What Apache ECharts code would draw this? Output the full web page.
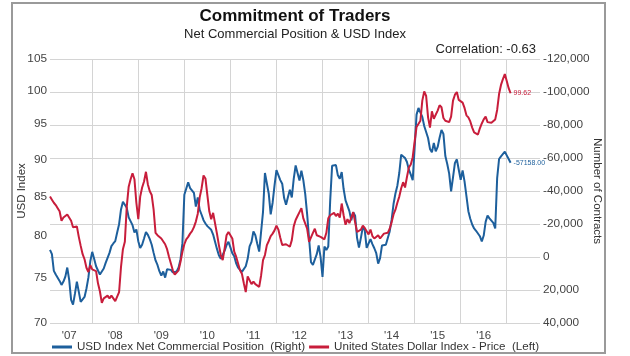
<!DOCTYPE html>
<html><head><meta charset="utf-8">
<script src="https://cdn.jsdelivr.net/npm/echarts@6/dist/echarts.min.js"></script>
<style>html,body{margin:0;padding:0;background:#fff}#c{width:630px;height:356px}</style>
</head><body><div id="c"></div>
<script>
// Semi-monthly samples, first one at start of Feb 2007
const START_YEAR = 2007 + 1 / 12;
const STEP = 1 / 24;
const X_MAX = 2017.722;

const yearTicks = [2008, 2009, 2010, 2011, 2012, 2013, 2014, 2015, 2016, 2017];
const yearLabelPos = [2007.5, 2008.5, 2009.5, 2010.5, 2011.5, 2012.5, 2013.5, 2014.5, 2015.5, 2016.5];
const yearLabels = ["'07", "'08", "'09", "'10", "'11", "'12", "'13", "'14", "'15", "'16"];
const leftTicks = [70, 75, 80, 85, 90, 95, 100, 105];

const seriesNames = ['USD Index Net Commercial Position  (Right)', 'United States Dollar Index - Price  (Left)'];

// USD Index Net Commercial Position (contracts), right axis
const netPosition = [
  -4300, -1700, 8400, 10600, 10000, 14500, 16900, 14900, 11900, 6400, 13900, 26000, 28900, 22200, 14900, 15900, 27200, 27400, 24200, 19100, 12500, 2600,
  -3100, 1100, 5600, 8200, 10600, 9400, 7000, 3600, 500, -2500, -6600, -8200, -9600, -14900, -19900, -28800, -33500, -34500, -29800, -24000, -25000, -19300, -14900, -16700,
  -9600, -5500, -7400, -11200, -15100, -13400, -10800, -7400, -2500, 2100, 4800, 8600, 11300, 8800, 12500, 7400, 8200, 7800, 9400, 10600, 8800, 6400, 1500, -8400,
  -37700, -38300, -45200, -41800, -42200, -38900, -30600, -36100, -28600, -25600, -22300, -20300, -18700, -18700, -16500, -13600, -9200, -4900, -1100, 1100, 2000, -3900, -7200, -9200,
  -5800, -2300, -500, 3800, 6400, 6200, 9000, 9600, 5600, 1100, -6400, -9200, -15500, -13200, -8000, -3300, -4300, -27400, -50900, -51700, -38300, -25800, -32900, -43400,
  -52700, -52100, -46600, -44400, -35700, -31700, -36300, -40800, -36100, -47400, -55500, -55700, -46400, -52300, -46600, -38100, -25800, -11200, 3200, 4800, 4800, -1700, -7000, 100,
  12100, -6400, -4300, -6400, -34100, -55300, -56100, -55700, -49500, -47400, -51500, -41200, -34300, -34000, -27800, -22300, -27200, -25000, -11600, -5700, -11600, -18100, -16300, -5500,
  -4700, -10800, -7800, -5300, -2300, 4000, 700, -7000, -6000, -7400, -8200, -15500, -22500, -32100, -38500, -43200, -50900, -62000, -62400, -60000, -57600, -52900, -49900, -46600,
  -66100, -86300, -90300, -89700, -84900, -79400, -79600, -72100, -65500, -63400, -69100, -64000, -66700, -72300, -77000, -74600, -61200, -56400, -50500, -39800, -48300, -57000, -59200, -52900,
  -46800, -52500, -45800, -36900, -27800, -23200, -19700, -17300, -15900, -14700, -12600, -9400, -13000, -21300, -25200, -23400, -22800, -20700, -17300, -47800, -59400, -61000, -62000, -63800,
  -61600, -59400, -57158
];

// United States Dollar Index - Price, left axis
const usdIndex = [
  85.0, 84.6, 84.2, 83.9, 83.5, 83.1, 81.9, 82.3, 82.5, 82.7, 82.5, 81.9, 81.1, 81.2, 81.2, 79.9, 78.8, 77.8, 77.2, 76.2, 75.7, 76.5,
  76.0, 75.8, 75.8, 74.4, 73.5, 72.2, 72.7, 72.7, 73.0, 72.7, 73.0, 72.7, 72.4, 72.5, 73.4, 76.3, 78.4, 79.3, 83.7, 86.3, 87.3, 88.1, 87.3, 84.2,
  82.1, 85.0, 86.2, 87.0, 88.3, 86.6, 85.7, 85.2, 83.3, 80.4, 80.1, 80.0, 79.7, 79.5, 79.0, 78.4, 77.5, 76.7, 75.9, 75.4, 75.2, 75.9, 76.9, 78.1,
  79.0, 79.6, 79.9, 80.3, 80.6, 81.1, 81.8, 82.8, 84.9, 86.1, 87.8, 87.4, 85.2, 83.1, 82.1, 82.9, 82.9, 80.3, 78.9, 77.7, 77.1, 78.5, 80.1, 80.5,
  80.3, 79.7, 78.1, 77.5, 76.7, 75.9, 75.5, 74.4, 73.4, 75.2, 75.2, 74.3, 74.6, 74.3, 74.4, 74.0, 75.3, 77.1, 77.7, 78.9, 79.4, 80.0, 80.3, 80.7,
  81.3, 80.8, 79.8, 78.9, 79.0, 79.0, 79.1, 78.7, 79.5, 81.2, 82.0, 82.5, 83.0, 83.5, 82.2, 82.2, 80.9, 79.3, 79.5, 80.4, 80.9, 80.1, 79.9, 79.9,
  79.9, 79.6, 80.4, 82.2, 82.6, 82.7, 82.9, 82.5, 82.8, 82.3, 84.1, 82.6, 81.4, 82.1, 81.6, 81.7, 83.0, 81.7, 80.5, 80.3, 80.8, 81.3, 81.0, 80.6,
  80.2, 80.8, 80.0, 79.7, 79.9, 80.1, 79.7, 79.9, 80.3, 80.3, 80.4, 80.9, 81.7, 82.7, 83.3, 84.2, 85.0, 86.1, 86.9, 86.2, 87.6, 88.9, 89.3, 90.3,
  92.5, 94.6, 94.5, 95.5, 98.5, 99.9, 99.2, 96.0, 94.5, 96.9, 95.8, 96.0, 97.0, 97.8, 97.5, 95.9, 95.5, 95.6, 95.3, 96.1, 98.5, 99.4, 99.8, 98.6,
  98.6, 98.2, 97.4, 96.3, 96.0, 95.4, 94.5, 93.8, 93.9, 93.5, 94.4, 95.1, 95.7, 96.1, 95.3, 95.2, 95.2, 95.4, 95.7, 97.1, 99.5, 100.9, 101.8, 102.6,
  101.5, 100.4, 99.62
];

const BLUE = '#1d5f9c';
const RED = '#c81d3b';
const FONT = '"Liberation Sans", Arial, sans-serif';

const chart = echarts.init(document.getElementById('c'), null, { renderer: 'canvas' });
chart.setOption({
  animation: false,
  backgroundColor: '#fff',
  textStyle: { fontFamily: FONT },
  title: [
    { text: 'Commitment of Traders', left: 295, top: 8, textAlign: 'center', padding: 0,
      textStyle: { fontSize: 17, fontWeight: 'bold', color: '#111', fontFamily: FONT } },
    { text: 'Net Commercial Position & USD Index', left: 295, top: 28, textAlign: 'center', padding: 0,
      textStyle: { fontSize: 13, fontWeight: 'normal', color: '#222', fontFamily: FONT } },
    { text: 'Correlation: -0.63', right: 94, top: 43, padding: 0,
      textStyle: { fontSize: 13, fontWeight: 'normal', color: '#222', fontFamily: FONT } }
  ],
  graphic: [{
    type: 'rect', silent: true, z: 100,
    shape: { x: 12, y: 3, width: 593, height: 350 },
    style: { fill: 'none', stroke: '#9a9a9a', lineWidth: 2 }
  }],
  legend: {
    left: 52, top: 341, padding: 0, itemGap: 4, itemWidth: 20, itemHeight: 3, icon: 'rect',
    textStyle: { fontSize: 11.6, color: '#333', fontFamily: FONT },
    data: seriesNames
  },
  grid: { left: 50, right: 90, top: 59, bottom: 33 },
  xAxis: {
    type: 'value', min: START_YEAR, max: X_MAX,
    axisLine: { show: false },
    axisTick: { show: false, customValues: yearTicks },
    splitLine: { show: true, lineStyle: { color: '#d4d4d4', width: 1 } },
    axisLabel: {
      customValues: yearLabelPos, margin: 7, fontSize: 11.5, color: '#444',
      formatter: v => yearLabels[Math.floor(v) - 2007]
    }
  },
  yAxis: [
    {
      type: 'log', logBase: 10, min: 70, max: 105, position: 'left',
      axisLine: { show: false }, axisTick: { show: false }, splitLine: { show: false },
      axisLabel: { customValues: leftTicks, fontSize: 11.8, color: '#444', margin: 3 },
      name: 'USD Index', nameLocation: 'middle', nameGap: 22, nameMoveOverlap: false,
      nameTextStyle: { fontSize: 11.5, color: '#333', fontFamily: FONT }
    },
    {
      type: 'value', min: -120000, max: 40000, interval: 20000, inverse: true, position: 'right',
      axisLine: { show: false }, axisTick: { show: false },
      splitLine: { show: true, lineStyle: { color: '#d4d4d4', width: 1 } },
      axisLabel: { fontSize: 11.8, color: '#444', margin: 3, formatter: v => v.toLocaleString('en-US') },
      name: 'Number of Contracts', nameLocation: 'middle', nameGap: 51, nameRotate: -90, nameMoveOverlap: false,
      nameTextStyle: { fontSize: 11.5, color: '#333', fontFamily: FONT }
    }
  ],
  series: [
    {
      name: seriesNames[0], type: 'line', yAxisIndex: 1, symbol: 'none', showSymbol: false,
      data: netPosition.map((v, i) => [START_YEAR + i * STEP, v]),
      lineStyle: { width: 2, color: BLUE }, itemStyle: { color: BLUE },
      endLabel: { show: true, formatter: p => p.value[1].toFixed(2), fontSize: 7, color: BLUE, distance: 3 }
    },
    {
      name: seriesNames[1], type: 'line', yAxisIndex: 0, symbol: 'none', showSymbol: false,
      data: usdIndex.map((v, i) => [START_YEAR + i * STEP, v]),
      lineStyle: { width: 2, color: RED }, itemStyle: { color: RED },
      endLabel: { show: true, formatter: p => p.value[1].toFixed(2), fontSize: 7, color: RED, distance: 3 }
    }
  ]
});
</script></body></html>
